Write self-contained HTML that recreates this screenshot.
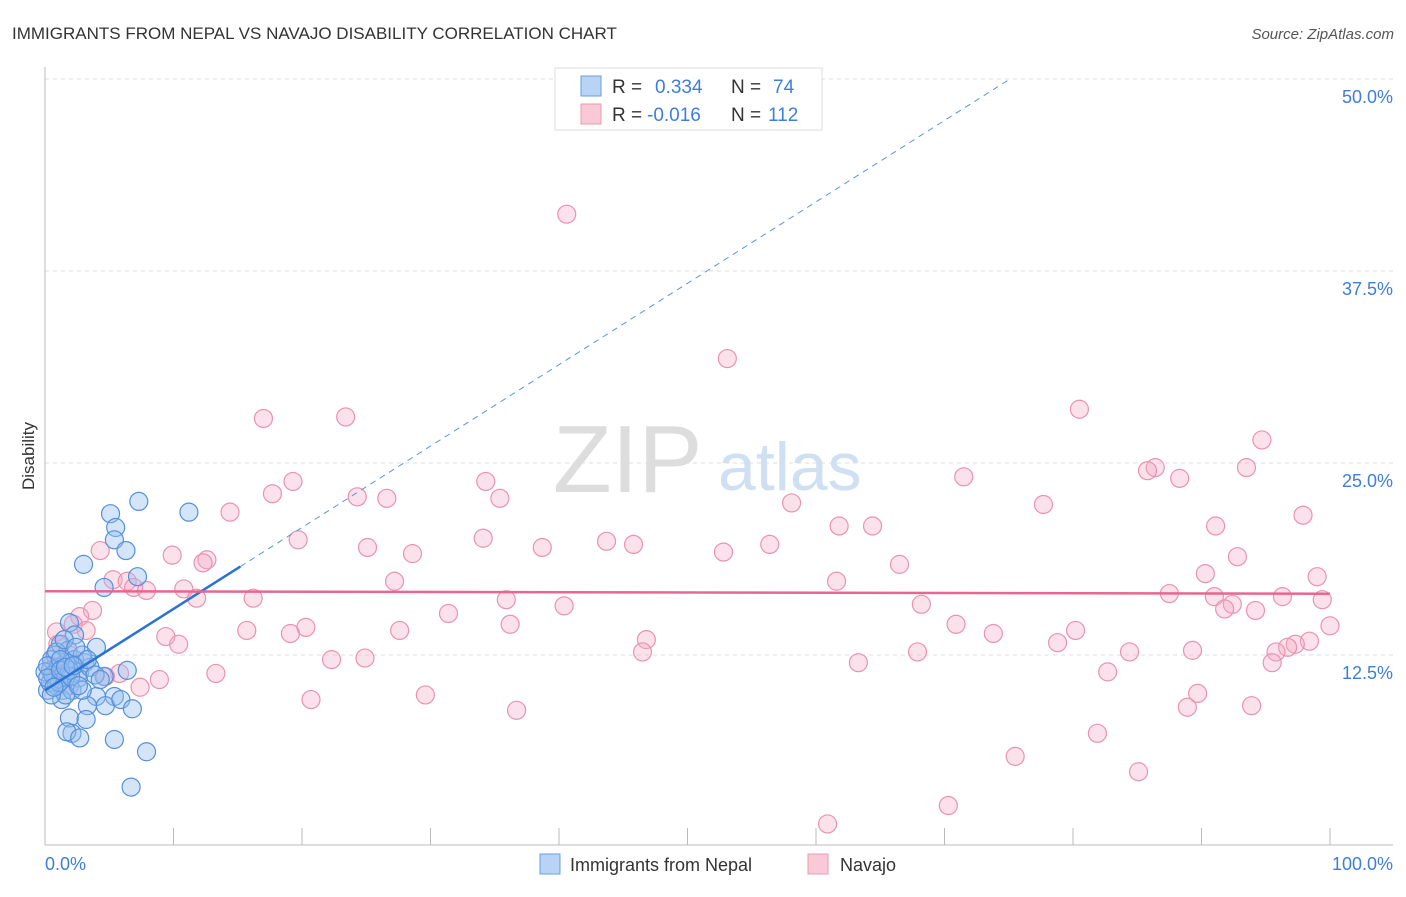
<!DOCTYPE html>
<html><head><meta charset="utf-8"><style>
body{margin:0;background:#fff;font-family:"Liberation Sans",sans-serif}
svg text{font-family:"Liberation Sans",sans-serif}
</style></head><body>
<svg id="chart" width="1406" height="892" xmlns="http://www.w3.org/2000/svg">
<text x="12" y="39" font-size="17" fill="#333">IMMIGRANTS FROM NEPAL VS NAVAJO DISABILITY CORRELATION CHART</text>
<text x="1394" y="39" font-size="15" fill="#555" font-style="italic" text-anchor="end">Source: ZipAtlas.com</text>
<g>
<text x="553" y="492" font-size="96" font-family="Liberation Serif" fill="#ddd">ZIP</text>
<text x="718" y="490" font-size="68" fill="#cfe0f5">atlas</text>
</g>
<g id="grid"></g>
<g id="axes"></g>
<g id="trends"></g>
<g id="pts"></g>
<text transform="translate(34,456) rotate(-90)" font-size="17" fill="#333" text-anchor="middle">Disability</text>
<text x="45" y="870" font-size="18" fill="#3d7edb">0.0%</text>
<text x="1393" y="870" font-size="18" fill="#3d7edb" text-anchor="end">100.0%</text>
<g>
<rect x="555" y="68" width="267" height="62" fill="#fff" stroke="#ddd"/>
<rect x="581" y="76" width="20" height="20" fill="#b8d3f5" stroke="#6b9de0"/>
<text x="612" y="93" font-size="19" fill="#333">R = </text><text x="655" y="93" font-size="19" fill="#3d7edb">0.334</text>
<text x="731" y="93" font-size="19" fill="#333">N = </text><text x="773" y="93" font-size="19" fill="#3d7edb">74</text>
<rect x="581" y="104" width="20" height="20" fill="#f9c9d7" stroke="#ec9ab3"/>
<text x="612" y="121" font-size="19" fill="#333">R = </text><text x="647" y="121" font-size="19" fill="#3d7edb">-0.016</text>
<text x="731" y="121" font-size="19" fill="#333">N = </text><text x="768" y="121" font-size="19" fill="#3d7edb">112</text>
</g>
<g>
<rect x="540" y="854" width="20" height="20" fill="#b8d3f5" stroke="#6b9de0"/>
<text x="570" y="871" font-size="18" fill="#333">Immigrants from Nepal</text></g>
<g>
<rect x="808" y="854" width="20" height="20" fill="#f9c9d7" stroke="#ec9ab3"/>
<text x="840" y="871" font-size="18" fill="#333">Navajo</text></g>
</svg>
<script>
const yTicks=[12.5,25,37.5,50];
const yTickLabels=["12.5%","25.0%","37.5%","50.0%"];
const xTicks=[0,10,20,30,40,50,60,70,80,90,100];
const nepalX=[7.3,5.1,11.2,5.5,5.4,6.3,3.0,7.2,4.6,4.0,6.4,4.6,4.0,5.4,4.7,5.9,6.8,3.3,1.9,3.2,2.1,1.7,2.7,5.4,7.9,6.7,1.9,2.3,1.2,0.8,1.6,2.3,3.1,0.4,0.8,1.2,1.9,0.2,1.4,2.7,0.5,1.0,1.8,2.6,3.5,1.3,2.1,0.0,0.4,0.6,1.6,2.3,2.9,0.9,1.5,1.9,0.2,0.9,1.2,2.4,3.3,1.6,0.5,1.1,2.0,2.9,3.9,4.3,0.2,0.7,1.2,1.6,2.2,2.6];
const nepalY=[22.5,21.7,21.8,20.8,20.0,19.3,18.4,17.6,16.9,13.0,11.5,11.1,9.8,9.8,9.2,9.6,9.0,9.2,8.4,8.3,7.4,7.5,7.1,7.0,6.2,3.9,14.6,13.8,13.2,12.5,12.0,11.8,12.0,11.5,10.9,11.2,10.5,10.2,10.2,11.4,12.2,11.7,12.8,11.0,11.7,9.6,10.2,11.4,10.7,11.2,11.0,12.2,12.5,12.7,13.5,11.5,11.8,10.5,12.2,13.0,12.2,9.9,9.9,10.7,11.1,10.2,11.2,10.9,11.0,10.4,11.5,11.7,11.8,10.5];
const navajoX=[40.6,53.1,80.5,17.0,23.4,94.7,86.4,85.8,93.5,71.5,88.3,19.3,34.3,17.7,24.3,26.6,35.4,77.7,58.1,14.4,97.9,61.8,64.4,91.1,34.1,19.7,43.7,45.8,25.1,38.7,52.8,56.4,4.3,28.6,9.9,92.8,12.6,12.3,66.5,90.3,99.0,5.3,61.6,6.4,27.2,10.8,6.9,7.9,87.5,96.3,91.0,99.4,11.8,16.2,35.9,40.4,68.2,92.4,91.8,94.2,3.7,31.4,2.7,2.2,100,70.9,36.2,20.3,15.7,0.9,19.1,27.6,3.2,73.8,80.2,9.4,46.8,78.8,10.4,98.4,97.3,96.7,1.0,46.5,67.9,84.4,89.3,95.8,22.3,24.9,63.3,95.5,82.7,13.3,5.8,4.7,8.9,7.4,89.7,29.6,20.7,88.9,93.9,36.7,81.9,75.5,85.1,70.3,60.9,0.5,1.9];
const navajoY=[41.2,31.8,28.5,27.9,28.0,26.5,24.7,24.5,24.7,24.1,24.0,23.8,23.8,23.0,22.8,22.7,22.7,22.3,22.4,21.8,21.6,20.9,20.9,20.9,20.1,20.0,19.9,19.7,19.5,19.5,19.2,19.7,19.3,19.1,19.0,18.9,18.7,18.5,18.4,17.8,17.6,17.4,17.3,17.3,17.3,16.8,16.9,16.7,16.5,16.3,16.3,16.1,16.2,16.2,16.1,15.7,15.8,15.8,15.5,15.4,15.4,15.2,15.0,14.5,14.4,14.5,14.5,14.3,14.1,14.0,13.9,14.1,14.1,13.9,14.1,13.7,13.5,13.3,13.2,13.4,13.2,13.0,13.2,12.7,12.7,12.7,12.8,12.7,12.2,12.3,12.0,12.0,11.4,11.3,11.3,11.1,10.9,10.4,10.0,9.9,9.6,9.1,9.2,8.9,7.4,5.9,4.9,2.7,1.5,11.8,12.5];
const nepalTrend=[10.2,0.53];
const navajoTrend=[16.65,-0.0016];
const NS="http://www.w3.org/2000/svg";
const X=v=>45+v*12.85, Y=v=>847-v*15.36;
function mk(tag,parent,attrs){const e=document.createElementNS(NS,tag);for(const k in attrs)e.setAttribute(k,attrs[k]);parent.appendChild(e);return e;}
const grid=document.getElementById('grid'),axes=document.getElementById('axes'),trends=document.getElementById('trends'),pts=document.getElementById('pts');
yTicks.forEach((t,i)=>{
 const l=mk('line',grid,{x1:45,x2:1393,y1:Y(t),y2:Y(t),stroke:'#ddd','stroke-dasharray':'4,4'});
 
 
 const tx=mk('text',axes,{x:1393,y:Y(t)+24,'font-size':18,fill:'#3d7edb','text-anchor':'end'});
 tx.textContent=yTickLabels[i];
 
 
});
const ya=mk('line',axes,{x1:45,x2:45,y1:67,y2:845,stroke:'#bbb'});


const xa=mk('line',axes,{x1:45,x2:1393,y1:845,y2:845,stroke:'#bbb'});


xTicks.forEach(t=>{
 const l=mk('line',axes,{x1:X(t),x2:X(t),y1:828,y2:845,stroke:'#bbb'});
 
 
});
function dots(xs,ys,fill,stroke,name){
 xs.forEach((x,i)=>{
  const c=mk('circle',pts,{cx:X(x),cy:Y(ys[i]),r:9,fill:fill,stroke:stroke,'stroke-width':1.2});
  
  
 });
}
dots(navajoX,navajoY,'rgba(244,170,195,0.35)','#ea93ae','navajo-point');
dots(nepalX,nepalY,'rgba(150,190,240,0.4)','#5590dc','nepal-point');
const xEnd=(50-nepalTrend[0])/nepalTrend[1];
const d1=mk('line',trends,{x1:X(15.2),y1:Y(nepalTrend[0]+nepalTrend[1]*15.2),x2:X(xEnd),y2:Y(50),stroke:'#5b93db','stroke-width':1,'stroke-dasharray':'6,5'});


const s1=mk('line',trends,{x1:X(0),y1:Y(nepalTrend[0]),x2:X(15.2),y2:Y(nepalTrend[0]+nepalTrend[1]*15.2),stroke:'#2a72d8','stroke-width':2.5});


const s2=mk('line',trends,{x1:X(0),y1:Y(navajoTrend[0]),x2:X(100),y2:Y(navajoTrend[0]+navajoTrend[1]*100),stroke:'#e8668f','stroke-width':2.5});


document.getElementById('chart').appendChild(trends);
</script>
</body></html>
